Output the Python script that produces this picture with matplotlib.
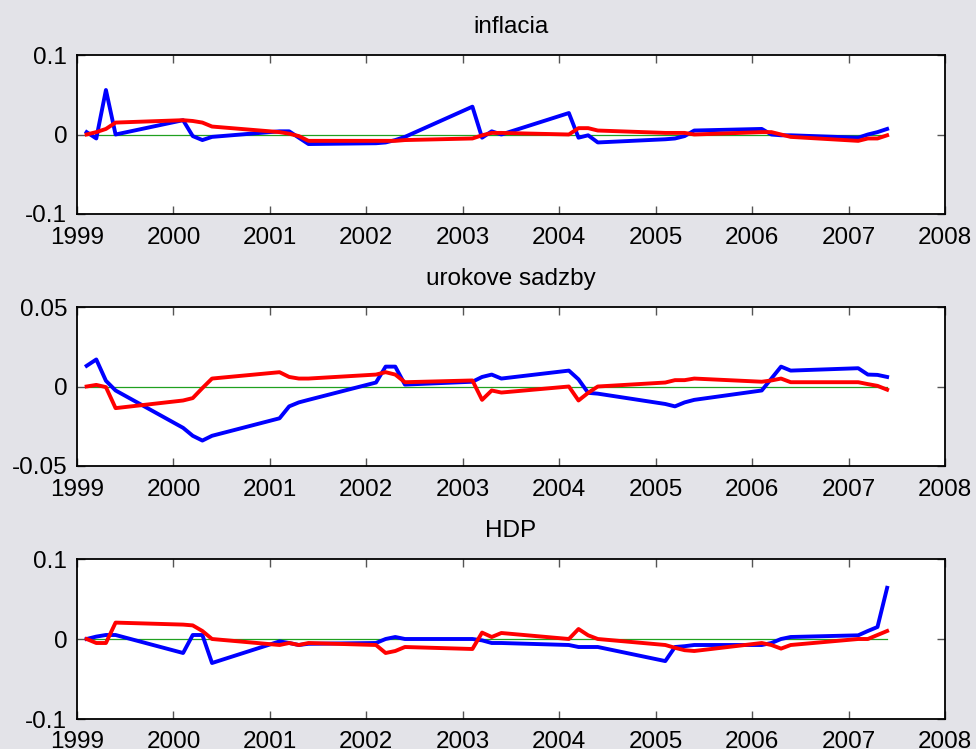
import matplotlib
matplotlib.use("Agg")
import matplotlib.pyplot as plt
import numpy as np

plt.rcParams['font.family'] = ['Liberation Sans', 'DejaVu Sans']

# time axis: year + quarter/10
years = list(range(1999, 2008))
t = [y + q / 10 for y in years for q in (1, 2, 3, 4)]

titles = ["inflacia", "urokove sadzby", "HDP"]

infl_blue = [0.003, -0.005, 0.056, 0.0,
             0.018, -0.002, -0.007, -0.003,
             0.004, 0.004, -0.004, -0.012,
             -0.011, -0.010, -0.007, -0.003,
             0.035, -0.004, 0.004, 0.0,
             0.027, -0.004, -0.001, -0.010,
             -0.006, -0.005, -0.002, 0.005,
             0.007, 0.0, -0.001, -0.001,
             -0.004, 0.0, 0.003, 0.007]
infl_red = [0.0, 0.003, 0.007, 0.015,
            0.018, 0.017, 0.015, 0.010,
            0.003, 0.001, -0.002, -0.008,
            -0.008, -0.008, -0.008, -0.007,
            -0.005, -0.001, 0.002, 0.002,
            0.0, 0.008, 0.008, 0.005,
            0.002, 0.002, 0.002, 0.0,
            0.003, 0.003, 0.0, -0.003,
            -0.008, -0.005, -0.005, -0.001]

rate_blue = [0.013, 0.017, 0.0036, -0.0025,
             -0.026, -0.031, -0.034, -0.031,
             -0.020, -0.0125, -0.010, -0.0084,
             0.0025, 0.0125, 0.0125, 0.0012,
             0.003, 0.006, 0.0075, 0.005,
             0.010, 0.0045, -0.004, -0.0045,
             -0.011, -0.0125, -0.010, -0.0084,
             -0.0025, 0.005, 0.0125, 0.010,
             0.0115, 0.0075, 0.0073, 0.006]
rate_red = [0.0, 0.001, -0.0004, -0.0136,
            -0.0088, -0.0073, -0.001, 0.005,
            0.009, 0.006, 0.005, 0.005,
            0.0075, 0.009, 0.0075, 0.0027,
            0.0038, -0.0084, -0.0025, -0.0038,
            0.0, -0.0088, -0.004, 0.0,
            0.0025, 0.004, 0.004, 0.005,
            0.003, 0.0038, 0.005, 0.0027,
            0.0027, 0.0015, 0.0004, -0.002]

gdp_blue = [0.0, 0.003, 0.005, 0.005,
            -0.0175, 0.005, 0.005, -0.030,
            -0.003, -0.005, -0.0075, -0.006,
            -0.005, 0.0, 0.0025, 0.0,
            0.0, -0.0017, -0.005, -0.005,
            -0.0075, -0.010, -0.010, -0.010,
            -0.0276, -0.010, -0.009, -0.0075,
            -0.0075, -0.005, 0.0, 0.0025,
            0.0046, 0.010, 0.015, 0.064]
gdp_red = [0.0, -0.005, -0.005, 0.0205,
           0.018, 0.017, 0.010, 0.0,
           -0.0075, -0.005, -0.0075, -0.005,
           -0.0075, -0.0175, -0.015, -0.010,
           -0.0125, 0.008, 0.0025, 0.0075,
           0.0, 0.0125, 0.0046, 0.0,
           -0.0075, -0.011, -0.014, -0.015,
           -0.005, -0.0075, -0.012, -0.0075,
           0.0, 0.0, 0.005, 0.010]

series = [(infl_blue, infl_red), (rate_blue, rate_red), (gdp_blue, gdp_red)]
ylims = [(-0.1, 0.1), (-0.05, 0.05), (-0.1, 0.1)]
yticks = [[-0.1, 0, 0.1], [-0.05, 0, 0.05], [-0.1, 0, 0.1]]
yticklabels = [["-0.1", "0", "0.1"], ["-0.05", "0", "0.05"], ["-0.1", "0", "0.1"]]
xticks = list(range(1999, 2009))

bg = "#e3e3e8"
fig = plt.figure(figsize=(9.76, 7.49), dpi=100, facecolor=bg)

positions = [
    [77 / 976, 1 - 214 / 749, 868 / 976, 159 / 749],
    [77 / 976, 1 - 466 / 749, 868 / 976, 159 / 749],
    [77 / 976, 1 - 719 / 749, 868 / 976, 160 / 749],
]

for i in range(3):
    ax = fig.add_axes(positions[i])
    ax.set_facecolor("white")
    blue, red = series[i]
    ax.plot(t, np.zeros(len(t)), color="#20a020", lw=0.9, zorder=1)
    ax.plot(t, blue, color="#0000ff", lw=2.8, zorder=2)
    ax.plot(t, red, color="#ff0000", lw=2.8, zorder=3)
    ax.set_xlim(1999, 2008)
    ax.set_ylim(*ylims[i])
    ax.set_xticks(xticks)
    ax.set_xticklabels([str(x) for x in xticks])
    ax.set_yticks(yticks[i])
    ax.set_yticklabels(yticklabels[i])
    ax.tick_params(direction="in", length=6, width=1, color="#555555",
                   top=True, right=True, labelsize=17.5, labelcolor="black")
    ax.tick_params(axis="x", pad=9)
    ax.tick_params(axis="y", pad=7)
    for s in ax.spines.values():
        s.set_linewidth(1.3)
        s.set_color("black")
    ax.set_title(titles[i], fontsize=17.5, pad=16)

fig.savefig("out.png", dpi=100, facecolor=bg)
